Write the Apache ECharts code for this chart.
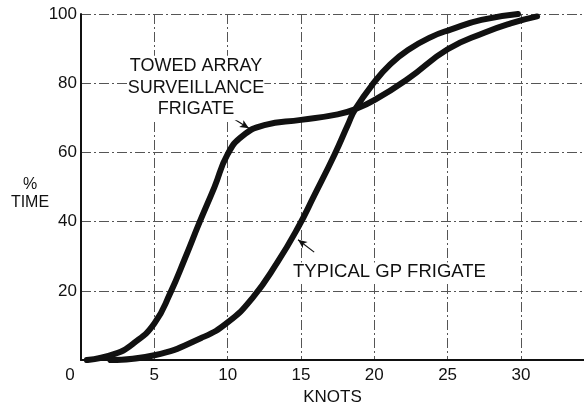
<!DOCTYPE html>
<html>
<head>
<meta charset="utf-8">
<script src="https://cdn.jsdelivr.net/npm/echarts@6/dist/echarts.min.js"></script>
<style>
  html, body { margin: 0; padding: 0; background: #fff; }
  #chart { width: 584px; height: 411px; }
</style>
</head>
<body>
<div id="chart"></div>
<script>
// ---- data ----
const towedKnots = [0.4, 2.3, 3.6, 5.0, 6.1, 7.1, 8.1, 9.1, 10.0, 11.0, 12.5, 15.0, 17.5, 18.7, 20.0, 22.3, 25.0, 27.5, 29.3, 31.1];
const towedPct   = [0, 1.8, 4.9, 10.6, 19.5, 29.5, 40, 50, 59.5, 64.7, 67.9, 69.4, 71.0, 72.5, 75.1, 81.3, 89.8, 94.6, 97.3, 99.3];

const gpKnots = [2.0, 5.0, 8.2, 10.0, 11.7, 13.4, 14.8, 15.9, 17.3, 18.2, 18.7, 20.0, 21.1, 22.3, 23.9, 25.2, 27.3, 29.8];
const gpPct   = [0, 1.4, 6.4, 10.9, 18.0, 28.3, 38.3, 47.5, 59.5, 68, 72.5, 80.3, 85.5, 89.6, 93.4, 95.5, 98.3, 100];

const xTicks = [0, 5, 10, 15, 20, 25, 30];
const yTicks = [20, 40, 60, 80, 100];

const towedLabel = 'TOWED ARRAY\nSURVEILLANCE\nFRIGATE';
const gpLabel = 'TYPICAL GP FRIGATE';
const xName = 'KNOTS';
const yName = '%\nTIME';

// annotation arrows in data coordinates: [from, to]
const towedArrow = [[10.3, 70.0], [11.45, 67.0]];
const gpArrow = [[15.9, 31.2], [14.8, 34.8]];

const FONT = '"Liberation Sans", Arial, Helvetica, sans-serif';
const INK = '#111';

function pairs(xs, ys) { return xs.map((x, i) => [x, ys[i]]); }

function arrowLine(a) {
  return [[
    { coord: a[0], symbol: 'none' },
    { coord: a[1], symbol: 'arrow', symbolSize: [6, 9] }
  ]];
}

const gridDash = [10, 3, 2, 3];

const chart = echarts.init(document.getElementById('chart'), null, { renderer: 'canvas' });
chart.setOption({
  animation: false,
  backgroundColor: '#fff',
  grid: { left: 81, right: 0, top: 14, bottom: 44 },
  xAxis: {
    type: 'value',
    min: 0, max: 34.3, interval: 5,
    name: xName,
    nameLocation: 'middle',
    nameGap: 26,
    nameTextStyle: { fontFamily: FONT, fontSize: 17, color: INK },
    axisLine: { show: true, lineStyle: { color: INK, width: 2 } },
    axisTick: { show: false },
    splitLine: { show: true, lineStyle: { color: '#555', width: 1, type: gridDash } },
    axisLabel: {
      showMaxLabel: false,
      margin: 7,
      fontFamily: FONT, fontSize: 17, color: INK,
      formatter: v => (xTicks.indexOf(v) === 0 ? '{z|' + v + '}' : (xTicks.indexOf(v) >= 0 ? String(v) : '')),
      rich: { z: { fontFamily: FONT, fontSize: 17, color: INK, padding: [0, 22, 0, 0] } }
    }
  },
  yAxis: {
    type: 'value',
    min: 0, max: 100, interval: 20,
    axisLine: { show: true, lineStyle: { color: INK, width: 2 } },
    axisTick: { show: false },
    splitLine: { show: true, lineStyle: { color: '#555', width: 1, type: gridDash } },
    axisLabel: {
      showMinLabel: false,
      margin: 4,
      fontFamily: FONT, fontSize: 17, color: INK,
      formatter: v => (yTicks.indexOf(v) >= 0 ? String(v) : '')
    }
  },
  series: [
    {
      name: 'Towed array surveillance frigate',
      type: 'line',
      data: pairs(towedKnots, towedPct),
      smooth: 0.5,
      showSymbol: false,
      lineStyle: { color: INK, width: 6, cap: 'round', join: 'round' },
      z: 5,
      markLine: {
        silent: true,
        animation: false,
        label: { show: false },
        lineStyle: { color: INK, width: 1.2, type: 'solid' },
        data: arrowLine(towedArrow)
      }
    },
    {
      name: 'Typical GP frigate',
      type: 'line',
      data: pairs(gpKnots, gpPct),
      smooth: 0.5,
      showSymbol: false,
      lineStyle: { color: INK, width: 6, cap: 'round', join: 'round' },
      z: 5,
      markLine: {
        silent: true,
        animation: false,
        label: { show: false },
        lineStyle: { color: INK, width: 1.2, type: 'solid' },
        data: arrowLine(gpArrow)
      }
    }
  ],
  graphic: [
    {
      type: 'text', x: 196, y: 88,
      style: {
        text: towedLabel, fontFamily: FONT, fontSize: 18, lineHeight: 21.5,
        fill: INK, align: 'center', verticalAlign: 'middle',
        backgroundColor: '#fff'
      }, z: 10
    },
    {
      type: 'text', x: 293, y: 272,
      style: {
        text: gpLabel, fontFamily: FONT, fontSize: 18.5,
        fill: INK, align: 'left', verticalAlign: 'middle',
        backgroundColor: '#fff'
      }, z: 10
    },
    {
      type: 'text', x: 30, y: 194,
      style: {
        text: yName, fontFamily: FONT, fontSize: 16, lineHeight: 18,
        fill: INK, align: 'center', verticalAlign: 'middle'
      }, z: 10
    }
  ]
});
</script>
</body>
</html>
